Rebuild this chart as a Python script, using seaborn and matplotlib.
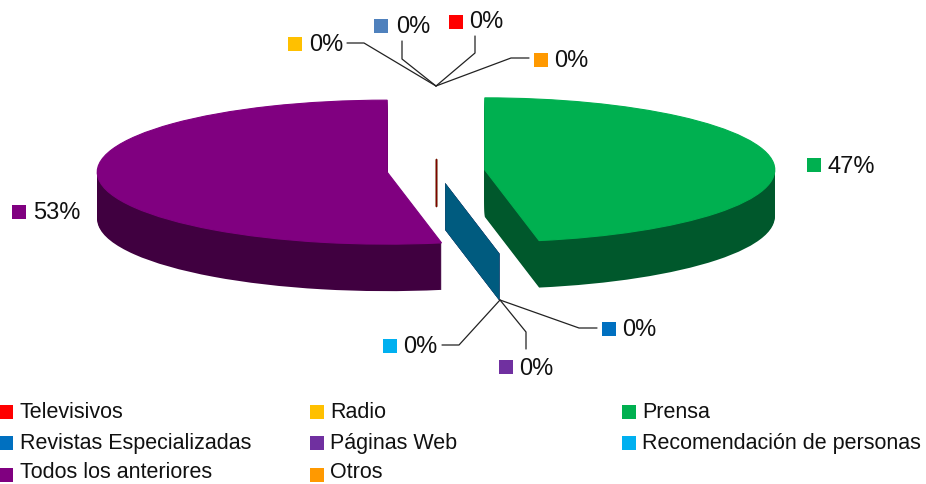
import numpy as np
import matplotlib.pyplot as plt
import seaborn as sns

# clockwise from 12 o'clock, the 0% slices still take a place in the pie
series = ["Televisivos", "Radio", "Prensa", "Revistas Especializadas", "Páginas Web",
          "Recomendación de personas", "Todos los anteriores", "Otros", ""]
values = [0, 0, 47, 0, 0, 0, 53, 0, 0]
top_hex = ["#FF0000", "#FFC000", "#00B050", "#0070C0", "#7030A0",
           "#00B0F0", "#800080", "#FF9900", "#4F81BD"]
side_hex = ["#800000", "#806000", "#00582C", "#003860", "#381850",
            "#005B7F", "#400040", "#804C00", "#284060"]
legend_order = series[:8]

sns.set_theme(style="white")
plt.rcParams["font.family"] = ["Liberation Sans", "DejaVu Sans"]
top_colors = sns.color_palette(top_hex)
side_colors = sns.color_palette(side_hex)

W, H = 926, 484
CX, CY = 436, 171    # pie centre in pixels
RX, RY = 290, 72     # ellipse radii
DEPTH = 47
EXPLODE = 0.169

fig = plt.figure(figsize=(W / 100, H / 100), dpi=100, facecolor="white")
ax = fig.add_axes([0, 0, 1, 1])
explode = [EXPLODE] * len(values)

# side walls: pile of dark pies from the bottom up, then the top face
for d in range(DEPTH, 0, -1):
    ax.pie(values, colors=side_colors, explode=explode, startangle=90, counterclock=False,
           center=(0, -d / RY), radius=1, wedgeprops={"linewidth": 0})

# 0% slices only show as flat walls, the first of each stack ends up in front
angles = np.cumsum(values) / np.sum(values) * 2 * np.pi
for i in [8, 7, 1, 0, 3, 4, 5]:
    sx, cy = np.sin(angles[i]), np.cos(angles[i])
    x0, y0 = EXPLODE * sx, EXPLODE * cy
    dy = DEPTH / RY
    if cy < 0:
        ax.fill([x0, x0 + sx, x0 + sx, x0], [y0, y0 + cy, y0 + cy - dy, y0 - dy],
                color=side_colors[i], linewidth=0)
    else:
        ax.plot([x0, x0], [y0, y0 - dy], color=side_colors[i], linewidth=1)

wedges, _ = ax.pie(values, colors=top_colors, explode=explode, startangle=90, counterclock=False,
                   radius=1, wedgeprops={"linewidth": 0})
for w, v in zip(wedges, values):
    if v > 0:
        w.set_edgecolor(w.get_facecolor())
        w.set_linewidth(0.8)
ax.set_aspect("auto")
ax.set_xlim(-CX / RX, (W - CX) / RX)
ax.set_ylim((CY - H) / RY, CY / RY)

# overlay in pixels for labels, leaders and legend
ov = fig.add_axes([0, 0, 1, 1], facecolor="none")
ov.set_xlim(0, W)
ov.set_ylim(H, 0)
ov.axis("off")


def swatch(x, y, color):
    ov.plot([x], [y], marker="s", markersize=9.4, markeredgewidth=0, color=color, linestyle="none")


# slice index, swatch x, swatch y, text x, text y
labels = [
    (0, 456, 22, 469, 22), (1, 295, 44, 309, 45), (2, 814, 165, 827, 167), (3, 609, 329, 622, 330),
    (4, 506, 367, 519, 369), (5, 390, 346, 403, 347), (6, 19, 212, 33, 213), (7, 541, 60, 554, 61),
    (8, 381, 26, 396, 27),
]
for i, sx_, sy_, tx, ty in labels:
    swatch(sx_, sy_, top_colors[i])
    ov.text(tx, ty, f"{values[i]}%", fontsize=17, color="#111111", va="center", ha="left")

leaders = [
    [(347, 43), (364, 43), (436, 86)],
    [(402, 41), (402, 59), (436, 86)],
    [(475, 36), (475, 53), (436, 86)],
    [(529, 58), (511, 58), (436, 86)],
    [(597, 328), (579, 328), (500, 300)],
    [(526, 349), (526, 332), (500, 300)],
    [(442, 345), (459, 345), (500, 300)],
]
for pts in leaders:
    xs, ys = zip(*pts)
    ov.plot(xs, ys, color="#222222", linewidth=0.9)

# legend, 3 columns
col_x = [6, 316.5, 628.5]
row_y = [412, 443, 475]
row_text_y = [413, 444, 473]
for k, name in enumerate(legend_order):
    x = col_x[k % 3]
    swatch(x, row_y[k // 3], top_colors[k])
    ov.text(x + 13.5, row_text_y[k // 3], name, fontsize=15.5, color="#111111", va="center", ha="left")

plt.savefig("out.png", dpi=100)
plt.close()
